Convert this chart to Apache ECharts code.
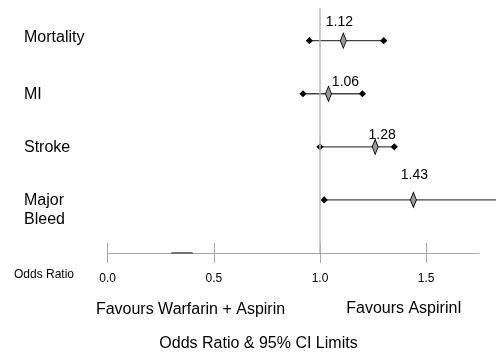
<!DOCTYPE html>
<html><head><meta charset="utf-8">
<script src="https://cdn.jsdelivr.net/npm/echarts@6/dist/echarts.min.js"></script>
<style>html,body{margin:0;padding:0;background:#fff}#c{width:496px;height:353px}</style>
</head><body><div id="c"></div>
<script>
const categories = ['Mortality', 'MI', 'Stroke', 'Major\nBleed'];
const oddsRatio = [1.11, 1.04, 1.26, 1.44];
const oddsLabels = ['1.12', '1.06', '1.28', '1.43'];
const ciLower = [0.95, 0.92, 1.0, 1.02];
const ciUpper = [1.30, 1.20, 1.35, 1.90];
const xTicks = [0, 0.5, 1, 1.5];
const refValue = 1;
const axisMarkSegment = [0.3, 0.4];

const FONT = 'Liberation Sans, Arial, sans-serif';
const labelOffsets = [[-4, -19], [17, -12], [7, -12], [1, -25]];
const catLabelShift = [-1.5, 2, 2, 2];
const Y_MIN = -0.616, Y_MAX = 4;

const chart = echarts.init(document.getElementById('c'));
const option = {
  animation: false,
  backgroundColor: '#fff',
  grid: { left: 107.7, right: 16.8, top: 8, bottom: 100, containLabel: false },
  xAxis: [{
    type: 'value', min: 0, max: 1.75, position: 'bottom',
    splitLine: { show: false },
    axisLine: { show: true, onZero: false, lineStyle: { color: '#a8a8a8', width: 1 } },
    axisTick: { show: true, inside: false, length: 10, customValues: xTicks, lineStyle: { color: '#a8a8a8' } },
    axisLabel: { show: true, customValues: xTicks, formatter: v => v.toFixed(1), color: '#000', fontFamily: FONT, fontSize: 12, margin: 20 }
  }, {
    type: 'value', min: 0, max: 1.75, position: 'bottom', offset: 0,
    splitLine: { show: false },
    axisLine: { show: false, onZero: false },
    axisTick: { show: true, inside: true, length: 10, customValues: xTicks, lineStyle: { color: '#a8a8a8' } },
    axisLabel: { show: false }
  }],
  yAxis: { type: 'value', min: Y_MIN, max: Y_MAX, inverse: true, show: false },
  series: [
    {
      type: 'custom', clip: false, z: 3,
      data: categories.map((c, i) => [ciLower[i], ciUpper[i], i]),
      encode: { x: [0, 1], y: 2 },
      renderItem(params, api) {
        const y = api.value(2);
        const p1 = api.coord([api.value(0), y]);
        const p2 = api.coord([api.value(1), y]);
        const d = 3.6;
        const dia = p => ({ type: 'polygon', shape: { points: [[p[0], p[1] - d], [p[0] + d, p[1]], [p[0], p[1] + d], [p[0] - d, p[1]]] }, style: { fill: '#000' } });
        return { type: 'group', children: [
          { type: 'line', shape: { x1: p1[0], y1: p1[1], x2: p2[0], y2: p2[1] }, style: { stroke: '#444', lineWidth: 1.3 } },
          dia(p1), dia(p2)
        ] };
      }
    },
    {
      type: 'scatter', z: 5,
      symbol: 'diamond', symbolSize: [6, 15],
      itemStyle: { color: '#9a9a9a', borderColor: '#000', borderWidth: 1, opacity: 1 },
      data: oddsRatio.map((v, i) => ({
        value: [v, i],
        label: { show: true, position: 'inside', offset: labelOffsets[i], formatter: oddsLabels[i], color: '#000', fontFamily: FONT, fontSize: 14 }
      })),
      markLine: {
        silent: true, symbol: 'none', label: { show: false },
        lineStyle: { color: '#b8b8b8', width: 1.5, type: 'solid' },
        data: [{ xAxis: refValue }]
      }
    },
    {
      type: 'line', z: 4, symbol: 'none',
      lineStyle: { color: '#707070', width: 2 },
      data: axisMarkSegment.map(v => [v, Y_MAX])
    }
  ]
};
chart.setOption(option);

const graphics = categories.map((c, i) => {
  const y = chart.convertToPixel({ yAxisIndex: 0 }, i);
  return { type: 'text', left: 24, top: y - 11 + catLabelShift[i], style: { text: c, font: '16px ' + FONT, fill: '#000', lineHeight: 19 } };
});
const fixedTexts = [
  { text: 'Odds Ratio', x: 44, y: 275, size: 12 },
  { text: 'Favours Warfarin + Aspirin', x: 190.5, y: 310, size: 16 },
  { text: 'Favours AspirinI', x: 404, y: 309, size: 16 },
  { text: 'Odds Ratio & 95% CI Limits', x: 258.5, y: 343.5, size: 16 }
];
fixedTexts.forEach(t => graphics.push({ type: 'text', x: t.x, y: t.y, style: { text: t.text, font: t.size + 'px ' + FONT, fill: '#000', align: 'center', verticalAlign: 'middle' } }));
chart.setOption({ graphic: graphics });
</script>
</body></html>
